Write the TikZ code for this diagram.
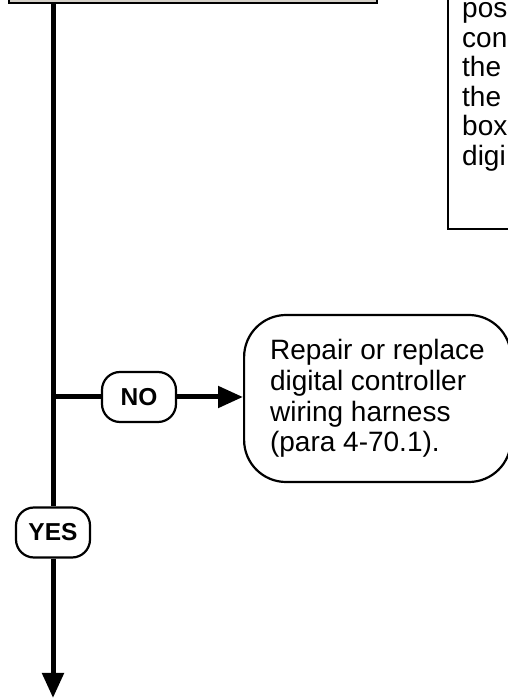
\documentclass[tikz,border=0pt]{standalone}
\usepackage{fontspec}
\setmainfont{Liberation Sans}
\usetikzlibrary{arrows.meta,positioning}
\definecolor{headgray}{RGB}{212,208,200}
\newcommand{\TrunkX}{53}
\newcommand{\BranchY}{301}
\newcommand{\NoteStep}{29.5}
\tikzset{
  flowline/.style={line width=5pt},
  flowarrow/.style={line width=5pt,-{Triangle[length=25pt,width=21pt]}},
  headbox/.style={draw,line width=2pt,fill=headgray,
    minimum width=368pt,minimum height=40pt,inner sep=0pt},
  notebox/.style={draw,line width=2pt,fill=white,
    minimum width=80pt,minimum height=260pt,inner sep=0pt},
  notetext/.style={font=\fontsize{28}{30}\selectfont,inner sep=0pt},
  actionbox/.style={draw,line width=2.2pt,rounded corners=42pt,
    inner xsep=26pt,minimum height=167pt,align=left,
    font=\fontsize{28}{30.7}\selectfont},
  answertag/.style={draw,line width=2.2pt,fill=white,rounded corners=18pt,
    minimum width=74pt,minimum height=50pt,inner sep=0pt,
    font=\bfseries\fontsize{24.5}{28}\selectfont}
}

\begin{document}
\begin{tikzpicture}[x=1pt,y=1pt]
  \useasboundingbox (0,0) rectangle (508,698);

  % boxes cut off by the page edge
  \node[headbox,anchor=south west] (topbox) at (8,694) {};
  \node[notebox,anchor=south west] (notebox) at (447,468) {};
  \foreach \w [count=\i] in {pos,con,the,the,box,digi} {
    \pgfmathsetmacro{\NyTmp}{698-18-(\i-1)*\NoteStep}
    \node[notetext,anchor=base west] (note\i) at (462,\NyTmp) {\w};
  }

  \coordinate (split) at (\TrunkX,\BranchY);
  \coordinate (exit) at (\TrunkX,0);
  \node[answertag] (no) at (139,\BranchY) {NO};
  \node[actionbox,anchor=west] (repair) at (243,299.5)
    {Repair or replace\\digital controller\\wiring harness\\(para 4-70.1).};
  \node[answertag] (yes) at (\TrunkX,165.5) {YES};

  \draw[flowline] (topbox.south -| yes.north) -- (yes.north);
  \draw[flowline] (split) -- (no.west);
  \draw[flowarrow] (no.east) -- (no.east -| repair.west);
  \draw[flowarrow] (yes.south) -- (exit);
\end{tikzpicture}
\end{document}
